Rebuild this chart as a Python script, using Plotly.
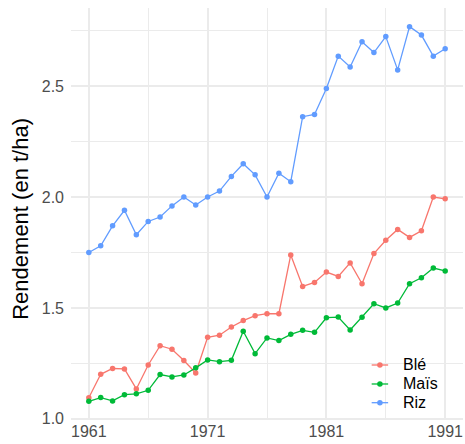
import plotly.graph_objects as go

years = list(range(1961, 1992))

ble = [1.095, 1.201, 1.227, 1.225, 1.135, 1.243, 1.330, 1.314, 1.263, 1.207,
       1.368, 1.377, 1.414, 1.443, 1.465, 1.474, 1.474, 1.739, 1.597, 1.615,
       1.662, 1.642, 1.703, 1.609, 1.745, 1.805, 1.854, 1.818, 1.848, 2.000,
       1.992]
mais = [1.079, 1.096, 1.081, 1.109, 1.113, 1.129, 1.200, 1.189, 1.198, 1.230,
        1.266, 1.258, 1.264, 1.395, 1.294, 1.365, 1.353, 1.381, 1.399, 1.390,
        1.456, 1.459, 1.401, 1.458, 1.519, 1.500, 1.522, 1.609, 1.636, 1.680,
        1.667]
riz = [1.750, 1.780, 1.870, 1.940, 1.830, 1.890, 1.910, 1.960, 2.000, 1.964,
       2.000, 2.027, 2.093, 2.150, 2.100, 2.000, 2.107, 2.069, 2.362, 2.372,
       2.489, 2.635, 2.586, 2.700, 2.651, 2.723, 2.573, 2.768, 2.730, 2.635,
       2.668]

series_names = ["Blé", "Maïs", "Riz"]
series_values = [ble, mais, riz]
colors = ["#F8766D", "#00BA38", "#619CFF"]

x_ticks = [1961, 1971, 1981, 1991]
y_ticks = [1.0, 1.5, 2.0, 2.5]
y_tick_labels = ["1.0", "1.5", "2.0", "2.5"]

FONT = "Liberation Sans, Arial, sans-serif"

fig = go.Figure()
for name, vals, col in zip(series_names, series_values, colors):
    fig.add_trace(go.Scatter(
        x=years, y=vals, mode="lines+markers", name=name,
        line=dict(color=col, width=1.3),
        marker=dict(color=col, size=5.5),
        showlegend=False,
    ))

# manual legend (bottom-right inside the panel)
leg_x0, leg_x1, leg_tx = 0.767, 0.809, 0.841
leg_y = [0.1335, 0.0874, 0.042]
shapes = []
annotations = []
for name, col, yy in zip(series_names, colors, leg_y):
    shapes.append(dict(type="line", xref="paper", yref="paper",
                       x0=leg_x0, x1=leg_x1, y0=yy, y1=yy,
                       line=dict(color=col, width=1.3)))
    xc = (leg_x0 + leg_x1) / 2
    shapes.append(dict(type="circle", xref="paper", yref="paper",
                       xsizemode="pixel", ysizemode="pixel",
                       xanchor=xc, yanchor=yy,
                       x0=-2.75, x1=2.75, y0=-2.75, y1=2.75,
                       fillcolor=col, line=dict(width=0)))
    annotations.append(dict(text=name, xref="paper", yref="paper",
                            x=leg_tx, y=yy, xanchor="left", yanchor="middle",
                            showarrow=False,
                            font=dict(size=16, color="black", family=FONT)))

annotations.append(dict(text="Rendement (en t/ha)", xref="paper", yref="paper",
                        x=-0.128, y=0.488, textangle=-90,
                        xanchor="center", yanchor="middle", showarrow=False,
                        font=dict(size=22, color="black", family=FONT)))

fig.update_layout(
    width=465, height=444,
    margin=dict(l=71, r=2, t=8, b=24),
    plot_bgcolor="white", paper_bgcolor="white",
    font=dict(family=FONT),
    shapes=shapes, annotations=annotations,
    xaxis=dict(
        range=[1959.5, 1992.5], automargin=False,
        tickmode="array", tickvals=x_ticks,
        ticktext=[str(v) for v in x_ticks],
        showgrid=True, gridcolor="#EBEBEB", gridwidth=2,
        minor=dict(dtick=5, tick0=1961, showgrid=True,
                   gridcolor="#EBEBEB", gridwidth=1),
        zeroline=False, showline=False, ticks="",
        tickfont=dict(size=16, color="#4D4D4D", family=FONT),
        ticklabelstandoff=0,
    ),
    yaxis=dict(
        range=[0.995, 2.852], automargin=False,
        tickmode="array", tickvals=y_ticks, ticktext=y_tick_labels,
        showgrid=True, gridcolor="#EBEBEB", gridwidth=2,
        minor=dict(dtick=0.25, tick0=1.0, showgrid=True,
                   gridcolor="#EBEBEB", gridwidth=1),
        zeroline=False, showline=False, ticks="",
        tickfont=dict(size=16, color="#4D4D4D", family=FONT),
        ticklabelstandoff=6,
    ),
)

fig.write_html(
    "out.html",
    config={"displayModeBar": False},
    post_script="document.body.style.margin='0';document.body.style.padding='0';",
)
